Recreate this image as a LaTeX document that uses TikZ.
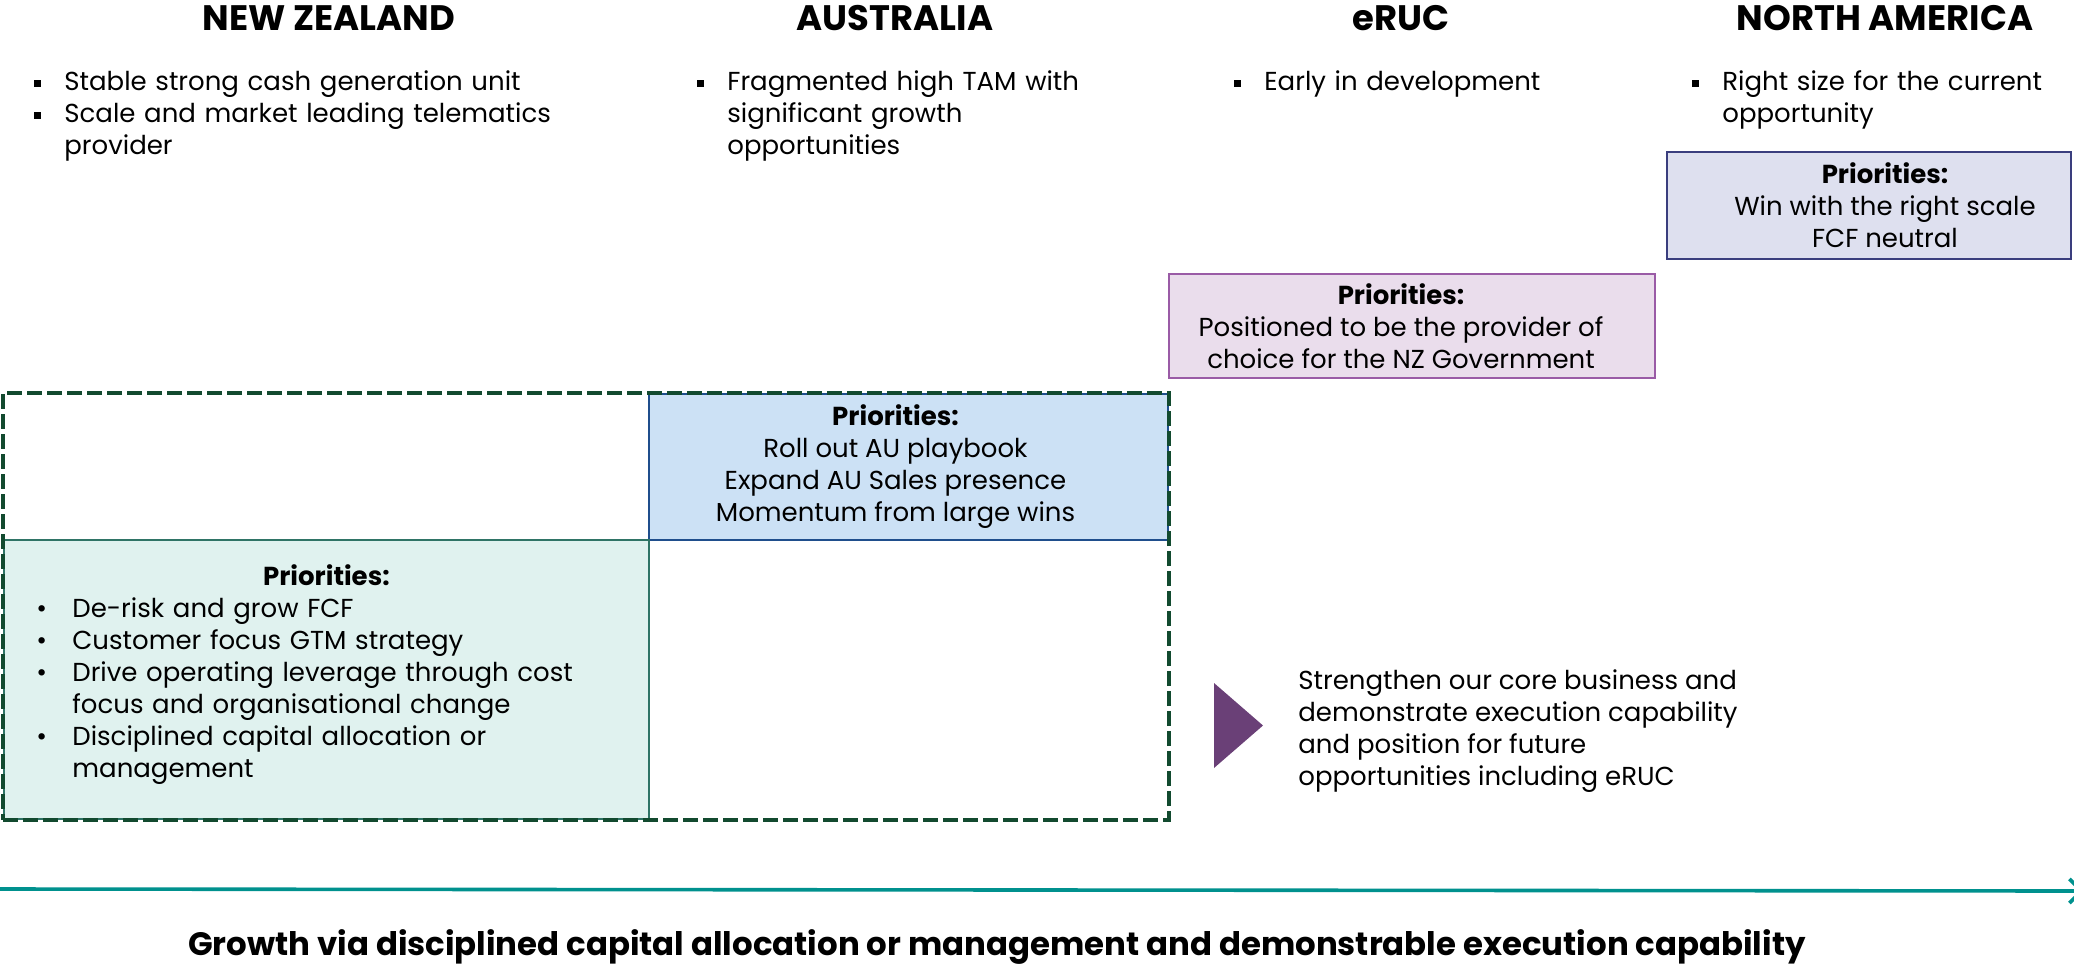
\documentclass[tikz,border=0pt]{standalone}
\usepackage{fontspec}
\setmainfont{Poppins}
\usepackage{xcolor}
\usetikzlibrary{arrows.meta, positioning, fit}

\definecolor{dashgreen}{HTML}{124A2F}
\definecolor{nzfill}{HTML}{E0F2EF}
\definecolor{nzline}{HTML}{2F7466}
\definecolor{aufill}{HTML}{CCE1F5}
\definecolor{auline}{HTML}{1F4E8C}
\definecolor{erucfill}{HTML}{EADDEC}
\definecolor{erucline}{HTML}{9A5BA6}
\definecolor{nafill}{HTML}{DEE0EF}
\definecolor{naline}{HTML}{3A3E7E}
\definecolor{tipviolet}{HTML}{6A4077}
\definecolor{timeteal}{HTML}{00918E}

% square and round bullets with a hanging indent
\newcommand{\sqitem}{\par\noindent\hangindent=17pt\hangafter=1%
  \makebox[17pt][l]{\hspace{2pt}\rule[1.9pt]{3.5pt}{3.5pt}}}
\newcommand{\rditem}{\par\noindent\hangindent=18pt\hangafter=1%
  \makebox[18pt][l]{\textbullet}}

\begin{document}
\begin{tikzpicture}[
    x=0.5pt, y=-0.5pt,
    font=\fontsize{13}{16}\selectfont,
    kop/.style={font=\fontsize{17.7}{20}\selectfont\bfseries, inner sep=0pt},
    poin/.style={anchor=north west, align=left, inner sep=0pt},
    prio/.style={draw, line width=1pt, inner sep=0pt},
    priotext/.style={align=center, inner sep=0pt}
  ]
  \useasboundingbox (0,0) rectangle (2074,966);

  % column headers
  \node[kop] (hnz) at (329,18) {NEW ZEALAND};
  \node[kop] (hau) at (895,18) {AUSTRALIA};
  \node[kop] (heruc) at (1401,18) {eRUC};
  \node[kop] (hna) at (1885,18) {NORTH AMERICA};

  % bullet points under the headers
  \node[poin, text width=300pt] (lnz) at (30,58)
    {\sqitem Stable strong cash generation unit
     \sqitem Scale and market leading telematics\newline provider\par};
  \node[poin, text width=220pt] (lau) at (693,58)
    {\sqitem Fragmented high TAM with\newline significant growth\newline opportunities\par};
  \node[poin, text width=200pt] (leruc) at (1230,58)
    {\sqitem Early in development\par};
  \node[poin, text width=185pt] (lna) at (1688,58)
    {\sqitem Right size for the current\newline opportunity\par};

  % priority boxes
  \node[prio, fill=nafill, draw=naline, minimum width=202pt, minimum height=53.5pt]
    (nabox) at (1869,205.5) {};
  \node[priotext] (natext) at ([xshift=8pt]nabox.center)
    {\textbf{Priorities:}\\Win with the right scale\\FCF neutral};

  \node[prio, fill=erucfill, draw=erucline, minimum width=243pt, minimum height=52pt]
    (erucbox) at (1412,326) {};
  \node[priotext] (eructext) at ([xshift=-5.5pt]erucbox.center)
    {\textbf{Priorities:}\\Positioned to be the provider of\\choice for the NZ Government};

  \node[prio, fill=aufill, draw=auline, minimum width=259.5pt, minimum height=73pt]
    (aubox) at (908.5,467) {};
  \node[priotext] (autext) at ([xshift=-6.5pt]aubox.center)
    {\textbf{Priorities:}\\Roll out AU playbook\\Expand AU Sales presence\\Momentum from large wins};

  \node[prio, fill=nzfill, draw=nzline, minimum width=322.5pt, minimum height=139.5pt]
    (nzbox) at (326.5,679.5) {};
  \node[poin, anchor=north west, text width=290pt] (nztext) at (36,564)
    {\centering\textbf{Priorities:}\par\raggedright
     \rditem De-risk and grow FCF
     \rditem Customer focus GTM strategy
     \rditem Drive operating leverage through cost\newline focus and organisational change
     \rditem Disciplined capital allocation or\newline management\par};

  % core markets frame
  \node[draw=dashgreen, line width=2pt, dash pattern=on 7.5pt off 2.5pt,
        inner sep=0pt, fit=(nzbox)(aubox)] (core) {};

  % outcome
  \fill[tipviolet] (1214,683) -- (1263,725.5) -- (1214,768) -- cycle;
  \node[anchor=west, align=left, inner sep=0pt] (outcome) at (1298,731)
    {Strengthen our core business and\\demonstrate execution capability\\and position for future\\opportunities including eRUC};

  % timeline
  \coordinate (tstart) at (0,889);
  \coordinate (tend) at (2084,891);
  \draw[timeteal, line width=1.8pt, -{Straight Barb[length=6pt, width=12pt]}] (tstart) -- (tend);
  \node[font=\fontsize{16.2}{19}\selectfont\bfseries, inner sep=0pt] (growth) at (997,947)
    {Growth via disciplined capital allocation or management and demonstrable execution capability};
\end{tikzpicture}
\end{document}
